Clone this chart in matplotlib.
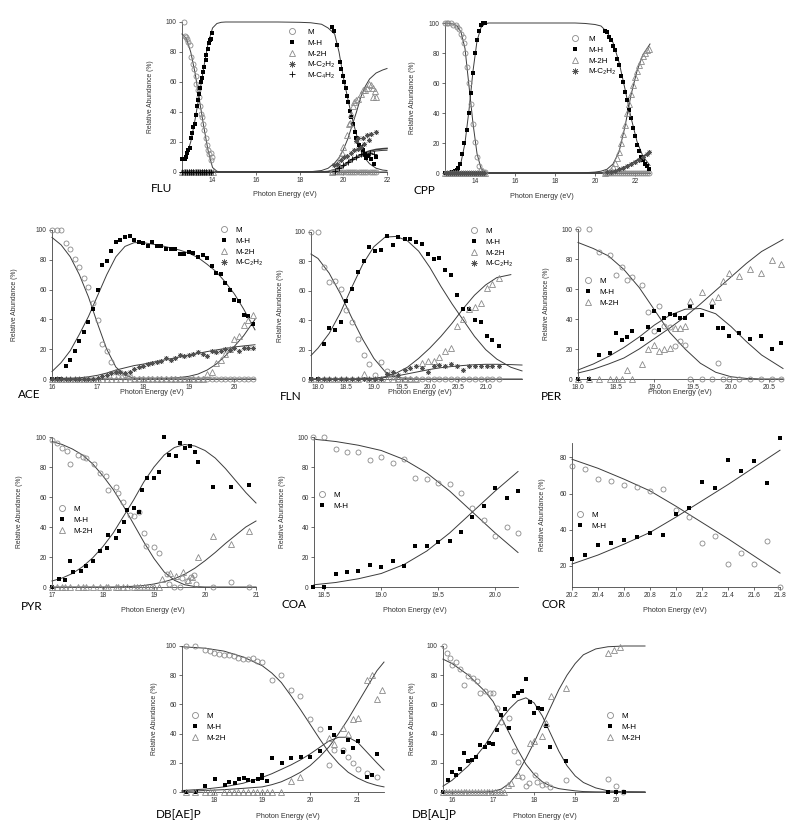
import numpy as np
import matplotlib
matplotlib.use('Agg')
import matplotlib.pyplot as plt

plt.rcParams['font.family'] = ['Liberation Sans', 'DejaVu Sans']

# ---------------- FLU ----------------
flu_m_x = [12.69, 12.75, 12.8, 12.83, 12.88, 12.95, 13.03, 13.1, 13.15, 13.22, 13.26, 13.32, 13.37,
           13.42, 13.46, 13.51, 13.57, 13.62, 13.68, 13.74, 13.8, 13.85, 13.92, 13.95, 13.98,
           19.5, 19.6, 19.7, 19.8, 19.9, 20.0, 20.1, 20.2, 20.3, 20.4, 20.5, 20.6, 20.7, 20.8,
           20.9, 21.0, 21.1, 21.2, 21.3, 21.4, 21.5]
flu_m_y = [100, 91, 90, 89, 87, 85, 77, 72, 69, 64, 59, 55, 50, 44, 39, 37, 32, 28, 23, 18, 15, 12, 13, 8, 10,
           0, 0, 0, 0, 0, 0, 0, 0, 0, 0, 0, 0, 0, 0, 0, 0, 0, 0, 0, 0, 0]
flu_mh_x = [12.6, 12.72, 12.8, 12.83, 12.89, 12.95, 13.0, 13.06, 13.11, 13.18, 13.23, 13.29, 13.34, 13.38,
            13.43, 13.48, 13.54, 13.58, 13.63, 13.68, 13.72, 13.77, 13.82, 13.88, 13.92, 13.98,
            19.46, 19.55, 19.72, 19.83, 19.9, 19.97, 20.03, 20.1, 20.18, 20.23, 20.3, 20.37, 20.45,
            20.52, 20.6, 20.72, 20.8, 20.88, 20.97, 21.06, 21.15, 21.26, 21.4, 21.5]
flu_mh_y = [9, 9, 10, 13, 15, 16, 23, 26, 30, 32, 38, 44, 48, 52, 56, 60, 63, 67, 70, 75, 78, 82, 86, 88, 89, 93,
            97, 94, 85, 73.5, 69, 64, 60, 56, 51, 47, 41, 37, 32, 27, 23, 18, 17, 14.5, 12, 9.6, 11, 9, 5.6, 10]
flu_m2h_x = [12.6, 12.7, 12.8, 12.9, 13.0, 13.1, 13.2, 13.3, 13.4, 13.5, 13.6, 13.7, 13.8, 13.9, 14.0,
             19.5, 19.6, 19.75, 19.85, 19.92, 19.98, 20.15, 20.25, 20.3, 20.34, 20.43, 20.49, 20.57, 20.65,
             20.8, 20.88, 20.98, 21.08, 21.18, 21.26, 21.37, 21.46, 21.49, 21.34]
flu_m2h_y = [0, 0, 0, 0, 0, 0, 0, 0, 0, 0, 0, 0, 0, 0, 0,
             0, 1, 6, 10, 13, 17, 24.5, 32, 33, 39, 44, 47, 48, 49, 52, 55, 55, 56, 59, 58, 56, 54, 50, 50]
flu_c2_x = [12.65, 12.75, 12.85, 12.95, 13.05, 13.15, 13.25, 13.35, 13.45, 13.55, 13.65, 13.75, 13.85, 13.95,
            19.57, 19.72, 19.88, 20.03, 20.18, 20.34, 20.5, 20.57, 20.65, 20.68, 20.8, 20.88, 20.95,
            21.08, 21.18, 21.26, 21.49]
flu_c2_y = [0, 0, 0, 0, 0, 0, 0, 0, 0, 0, 0, 0, 0, 0,
            4.5, 5.6, 8, 10, 11, 13, 14.5, 21, 15.6, 23, 17, 23, 19, 24.5, 21.6, 25.6, 27]
flu_c4_x = [12.62, 12.72, 12.82, 12.92, 13.02, 13.12, 13.22, 13.32, 13.42, 13.52, 13.62, 13.72, 13.82, 13.92,
            19.6, 19.8, 20.0, 20.2, 20.4, 20.6, 20.8, 21.0, 21.2, 21.4]
flu_c4_y = [0, 0, 0, 0, 0, 0, 0, 0, 0, 0, 0, 0, 0, 0, 1, 3, 5, 7, 9, 10, 12, 11, 13, 12]
flu_fit_x = [12.6, 12.8, 13.0, 13.2, 13.4, 13.6, 13.8, 14.0, 14.2, 14.4, 14.6, 15.0, 16.0, 17.0, 18.0,
             18.5, 19.0, 19.3, 19.6, 19.8, 20.0, 20.2, 20.4, 20.6, 20.8, 21.0, 21.2, 21.5, 21.8, 22.0]
flu_fit_m = [92, 89, 80, 66, 48, 30, 14, 3, 0.5, 0, 0, 0, 0, 0, 0, 0, 0, 0, 0, 0, 0, 0, 0, 0, 0, 0, 0, 0, 0, 0]
flu_fit_mh = [8, 11, 20, 35, 52, 70, 86, 96, 99, 99.8, 100, 100, 100, 100, 99.8, 99.5, 98.5, 96, 92, 80,
              63, 49, 36, 25, 15, 9, 5.5, 2.5, 1.3, 1]
flu_fit_m2h = [0, 0, 0, 0, 0, 0, 0, 0, 0, 0, 0, 0, 0, 0, 0, 0.2, 1, 2.5, 6, 9.5, 15, 22, 31, 40, 50, 57, 62,
               66, 68, 69]
flu_fit_c2 = [0, 0, 0, 0, 0, 0, 0, 0, 0, 0, 0, 0, 0, 0, 0, 0, 0, 0.3, 1.5, 3, 4.5, 6.5, 8.5, 10, 11.5, 13,
              14, 15, 15.5, 15.7]
flu_fit_c4 = [0, 0, 0, 0, 0, 0, 0, 0, 0, 0, 0, 0, 0, 0, 0, 0, 0, 0.2, 0.8, 2, 3.5, 5.5, 7.5, 9, 10.5, 12,
              13, 14, 14.4, 14.5]

# ---------------- CPP ----------------
cpp_m_x = [12.5, 12.58, 12.67, 12.78, 12.92, 13.03, 13.12, 13.22, 13.3, 13.38, 13.45, 13.52, 13.6, 13.68,
           13.78, 13.9, 14.02, 14.12, 14.22, 14.32, 14.42, 14.5,
           20.5, 20.6, 20.7, 20.8, 20.9, 21.0, 21.1, 21.2, 21.3, 21.4, 21.5, 21.6, 21.7, 21.8, 21.9, 22.0,
           22.1, 22.2, 22.3, 22.4, 22.5, 22.6, 22.7]
cpp_m_y = [100, 100, 100, 100, 99, 98.5, 97.5, 96, 93, 91, 87, 80, 71, 60, 46, 33, 21, 11, 5, 2, 1, 0.5,
           0, 0, 0, 0, 0, 0, 0, 0, 0, 0, 0, 0, 0, 0, 0, 0, 0, 0, 0, 0, 0, 0, 0]
cpp_mh_x = [12.5, 12.62, 12.72, 12.83, 12.92, 13.0, 13.08, 13.17, 13.27, 13.37, 13.47, 13.58, 13.68, 13.8,
            13.9, 14.02, 14.12, 14.22, 14.32, 14.42, 14.5,
            20.5, 20.6, 20.7, 20.8, 20.9, 21.0, 21.1, 21.2, 21.3, 21.4, 21.5, 21.6, 21.7, 21.8, 21.9, 22.0,
            22.1, 22.2, 22.3, 22.4, 22.5, 22.6, 22.7]
cpp_mh_y = [0, 0, 0.3, 0.5, 1, 1.3, 2, 3.5, 6, 12.7, 20, 29, 40, 53.5, 67, 80, 89, 95, 98.7, 99.8, 100,
            95, 94, 91, 89, 85, 82, 76, 72, 65, 61, 54, 49, 42, 37, 30, 25, 19, 15, 11, 9, 6, 5, 3]
cpp_m2h_x = [12.5, 12.6, 12.7, 12.8, 12.9, 13.0, 13.1, 13.2, 13.3, 13.4, 13.5, 13.6, 13.7, 13.8, 13.9, 14.0,
             14.1, 14.2, 14.3, 14.4, 14.5,
             20.5, 20.6, 20.7, 20.8, 20.9, 21.0, 21.1, 21.2, 21.3, 21.4, 21.5, 21.6, 21.7, 21.8, 21.9, 22.0,
             22.1, 22.2, 22.3, 22.4, 22.5, 22.6, 22.7]
cpp_m2h_y = [0, 0, 0, 0, 0, 0, 0, 0, 0, 0, 0, 0, 0, 0, 0, 0, 0, 0, 0, 0, 0,
             0, 0.5, 1, 2, 4, 7, 10, 14, 20, 26, 32, 40, 46, 53, 59, 64, 68, 72, 75, 78, 80, 82, 83]
cpp_c2_x = [12.55, 12.65, 12.75, 12.85, 12.95, 13.05, 13.15, 13.25, 13.35, 13.45, 13.55, 13.65, 13.75,
            13.85, 13.95, 14.05, 14.15, 14.25, 14.35, 14.45,
            20.6, 20.8, 21.0, 21.2, 21.4, 21.6, 21.8, 22.0, 22.2, 22.4, 22.6, 22.7]
cpp_c2_y = [0, 0, 0, 0, 0, 0, 0, 0, 0, 0, 0, 0, 0, 0, 0, 0, 0, 0, 0, 0,
            0.5, 1, 1.5, 2.5, 3.5, 4.5, 6, 7.5, 9, 11, 13, 14]
cpp_fit_x = [12.5, 12.7, 12.9, 13.1, 13.3, 13.5, 13.7, 13.9, 14.1, 14.3, 14.5, 14.7, 15.0, 16.0, 17.0, 18.0,
             19.0, 19.5, 20.0, 20.3, 20.6, 20.9, 21.2, 21.5, 21.8, 22.1, 22.4, 22.75]
cpp_fit_m = [100, 99.8, 99.3, 98, 94, 83, 58, 33, 13, 3, 0.5, 0, 0, 0, 0, 0, 0, 0, 0, 0, 0, 0, 0, 0, 0, 0, 0, 0]
cpp_fit_mh = [0, 0.2, 0.6, 2, 7, 20, 42, 68, 88, 97, 99.5, 100, 100, 100, 100, 100, 100, 99.7, 99, 98, 94,
              87, 74, 56, 37, 21, 11, 5]
cpp_fit_m2h = [0, 0, 0, 0, 0, 0, 0, 0, 0, 0, 0, 0, 0, 0, 0, 0, 0, 0.2, 0.6, 1.2, 2.5, 6, 14, 31, 52, 68, 79, 86]
cpp_fit_c2 = [0, 0, 0, 0, 0, 0, 0, 0, 0, 0, 0, 0, 0, 0, 0, 0, 0, 0, 0, 0, 0.3, 1, 2, 4, 6, 8.5, 11, 14]

# ---------------- ACE ----------------
ace_x = [16.0, 16.1, 16.2, 16.3, 16.4, 16.5, 16.6, 16.7, 16.8, 16.9, 17.0, 17.1, 17.2, 17.3, 17.4, 17.5,
         17.6, 17.7, 17.8, 17.9, 18.0, 18.1, 18.2, 18.3, 18.4, 18.5, 18.6, 18.7, 18.8, 18.9, 19.0, 19.1,
         19.2, 19.3, 19.4, 19.5, 19.6, 19.7, 19.8, 19.9, 20.0, 20.1, 20.2, 20.3, 20.4]
ace_m = [100, 100, 100, 91, 87, 80.5, 75, 67.5, 62, 51, 39.5, 23.5, 19, 11.5, 5, 4, 3, 1.5,
         0, 0, 0, 0, 0, 0, 0, 0, 0, 0, 0, 0, 0, 0, 0, 0, 0, 0, 0, 0, 0, 0, 0, 0, 0, 0, 0]
ace_mh = [0, 0, 0, 8.5, 13, 19, 25.5, 31.5, 38, 47, 59.5, 76.5, 79, 86, 92, 93.5, 95, 96, 93, 92, 91, 89.5,
          92, 89, 89, 87, 87.5, 87.5, 84, 84, 85, 84.5, 82, 83, 81.5, 76, 71, 70.5, 64.5, 60, 53, 52.5, 43, 42, 37]
ace_m2h = [0, 0, 0, 0, 0, 0, 0, 0, 0, 0, 0, 0, 0, 0, 0, 0, 0, 0, 0, 0, 0, 0, 0, 0, 0, 0, 0, 0, 0, 0, 0, 0,
           0, 0, 3.5, 5, 11, 12.5, 17, 20, 27, 29, 36, 39.5, 43]
ace_c2 = [0, 0, 0, 0, 0, 0, 0, 0, 0, 0, 1, 2, 3, 4, 5, 5, 4, 5, 7, 8, 9, 10, 10.5, 11.5, 12, 14, 13, 14, 16,
          15.5, 16, 16.5, 18, 17, 15.5, 18.5, 18, 19, 20, 19.5, 21, 19, 20.5, 21, 20.5]
ace_fit_x = [16.0, 16.2, 16.4, 16.6, 16.8, 17.0, 17.2, 17.4, 17.6, 17.8, 18.0, 18.2, 18.4, 18.6, 18.8, 19.0,
             19.2, 19.4, 19.6, 19.8, 20.0, 20.2, 20.45]
ace_fit_m = [95, 90, 82, 70, 55, 37, 20, 8, 2.5, 0.5, 0, 0, 0, 0, 0, 0, 0, 0, 0, 0, 0, 0, 0]
ace_fit_mh = [5, 11, 19, 30, 42, 56, 70, 82, 89, 91.5, 91.5, 90.5, 89.5, 88, 86.5, 84.5, 81.5, 77, 72, 65,
              57, 47, 33]
ace_fit_m2h = [0, 0, 0, 0, 0, 0, 0, 0, 0, 0, 0, 0.1, 0.2, 0.5, 1, 1.8, 3.3, 6, 10, 15.5, 22, 29, 40]
ace_fit_c2 = [0, 0.2, 0.4, 0.8, 1.5, 2.5, 4, 6, 7.5, 9, 10, 11.2, 12.4, 13.6, 14.8, 16, 17.2, 18.4, 19.5,
              20.5, 21.5, 22.2, 23]

# ---------------- FLN ----------------
fln_x = [17.875, 18.0, 18.1, 18.2, 18.31, 18.41, 18.51, 18.61, 18.71, 18.82, 18.92, 19.02, 19.13, 19.23,
         19.34, 19.44, 19.55, 19.65, 19.76, 19.86, 19.96, 20.07, 20.17, 20.27, 20.38, 20.48, 20.59, 20.7,
         20.81, 20.91, 21.02, 21.12, 21.23]
fln_m = [100, 100, 76, 66, 67, 61, 47, 39, 27, 16, 10, 3, 11.3, 5.6, 1.5,
         0, 0, 0, 0, 0, 0, 0, 0, 0, 0, 0, 0, 0, 0, 0, 0, 0, 0]
fln_mh = [0, 0, 24, 34.5, 33, 39, 53, 61, 73, 80.5, 89.5, 87, 87.5, 97, 91, 96.5, 95.5, 95.5, 93.5, 92, 85,
          81.5, 82.5, 74, 70.5, 57, 47.5, 47.5, 40, 39, 29, 26.5, 22.5]
fln_m2h = [0, 0, 0, 0, 0, 0, 0, 0, 0, 3.6, 0, 0, 0, 0, 0, 0, 0, 0, 0, 11, 12, 12.2, 15, 19, 21, 36, 41,
           47.4, 49, 51.5, 61.6, 64.6, 68.4]
fln_c2 = [0, 0, 0, 0, 0, 0, 0, 0, 0, 0, 0, 0, 0, 3.6, 4.5, 3, 6.3, 7.4, 8.6, 7.4, 5, 8.6, 9.7, 8.6, 10.4,
          8.6, 6.3, 9, 9, 9, 9, 9, 9]
fln_fit_x = [17.875, 18.0, 18.2, 18.4, 18.6, 18.8, 19.0, 19.2, 19.4, 19.6, 19.8, 20.0, 20.2, 20.4, 20.6,
             20.8, 21.0, 21.2, 21.45, 21.65]
fln_fit_m = [85, 82, 72, 58, 42, 27, 14, 5, 1.2, 0.2, 0, 0, 0, 0, 0, 0, 0, 0, 0, 0]
fln_fit_mh = [16, 21, 31, 45, 62, 78, 90, 96.5, 97, 94, 87, 76, 63, 51, 40, 29, 20, 13.5, 8, 5.5]
fln_fit_m2h = [0, 0, 0, 0, 0, 0.2, 0.5, 1.5, 4, 8, 14, 21, 29, 38, 48, 57, 64, 69, 71, np.nan]
fln_fit_c2 = [0, 0, 0, 0, 0, 0, 0.3, 1, 2, 3.5, 5, 6.5, 7.7, 8.5, 9.2, 9.7, 10, 10, 9.8, 9.5]

# ---------------- PER ----------------
per_x = [18.0, 18.14, 18.28, 18.42, 18.5, 18.57, 18.64, 18.7, 18.84, 18.92, 18.99, 19.06, 19.13, 19.2,
         19.27, 19.33, 19.4, 19.47, 19.62, 19.75, 19.83, 19.9, 19.97, 20.1, 20.25, 20.39, 20.53, 20.66]
per_m = [100, 100, 84.5, 83, 69.5, 74.5, 66, 68, 62.5, 45, 32, 49, 35.5, 35, 22, 25.5, 23, 0, 0, 0, 10.5,
         0, 0, 0, 0, 0, 0, 0]
per_mh = [0, 0, 15.8, 17.4, 30.8, 26.3, 28, 32, 27, 34.4, 45.5, 32.6, 41, 43.3, 43, 40.4, 41, 48.7, 42.6,
          47.8, 34, 34, 29, 31, 26.6, 29, 20, 24]
per_m2h = [0, 0, 0, 0, 0, 0, 5.8, 0, 10, 20, 22.5, 18.5, 20.3, 20.8, 34, 33.7, 35.3, 52, 57.8, 52, 55,
           65.4, 70.5, 68.8, 73.2, 71, 79.5, 76.6]
per_fit_x = [18.0, 18.2, 18.4, 18.6, 18.8, 19.0, 19.2, 19.4, 19.6, 19.8, 20.0, 20.2, 20.4, 20.68]
per_fit_m = [91, 87, 82, 73, 61, 46, 31, 20, 10.5, 4.5, 1.5, 0.4, 0, 0]
per_fit_mh = [6, 10, 15, 21, 28, 36, 42.5, 46.5, 47, 43.5, 35, 25, 16, 7]
per_fit_m2h = [4, 6.5, 10, 14, 20, 27, 34, 41.5, 50, 59, 68, 77, 85, 93]

# ---------------- PYR ----------------
pyr_m_x = [17.0, 17.1, 17.2, 17.3, 17.36, 17.5, 17.6, 17.67, 17.83, 17.95, 18.05, 18.1, 18.25, 18.3, 18.4,
           18.52, 18.6, 18.7, 18.8, 18.85, 19.0, 19.1, 19.25, 19.3, 19.4, 19.5, 19.55, 19.65, 19.72, 19.78,
           19.82, 20.15, 20.5, 20.86]
pyr_m_y = [98, 96, 93, 91, 82, 88, 87, 86, 82, 76, 74, 65, 67, 62.5, 56.5, 48, 47.5, 50, 36, 27.5, 27, 23,
           9, 2, 0, 0, 6, 4, 7, 8, 2, 0, 3.5, 0]
pyr_mh_x = [17.0, 17.13, 17.26, 17.36, 17.41, 17.56, 17.67, 17.8, 17.95, 18.07, 18.1, 18.26, 18.31, 18.41,
            18.47, 18.6, 18.71, 18.76, 18.86, 19.0, 19.1, 19.2, 19.3, 19.44, 19.5, 19.6, 19.7, 19.8, 19.87,
            20.15, 20.5, 20.86]
pyr_mh_y = [0, 5.6, 5, 17.4, 10, 10.7, 13.8, 17.4, 24.1, 25.7, 34.6, 33, 37.5, 43.6, 51.4, 52.5, 50.3,
            64.4, 72.6, 73, 77, 100, 88, 87.6, 96, 93, 94, 90, 83.5, 66.6, 67, 68]
pyr_m2h_x = [17.0, 17.1, 17.2, 17.26, 17.36, 17.5, 17.6, 17.67, 17.8, 17.95, 18.05, 18.1, 18.25, 18.3,
             18.4, 18.47, 18.6, 18.67, 18.73, 18.8, 18.86, 18.95, 19.0, 19.1,
             19.15, 19.31, 19.43, 19.56, 19.66, 19.75, 19.87, 20.16, 20.51, 20.87]
pyr_m2h_y = [0, 0, 0, 0, 0, 0, 0, 0, 0, 0, 0, 0, 0, 0, 0, 0, 0, 0, 0, 0, 0, 0, 0, 0,
             5.6, 9.6, 7.4, 10, 4.5, 6.7, 20, 34, 29, 37.3]
pyr_fit_x = [17.0, 17.2, 17.4, 17.6, 17.8, 18.0, 18.2, 18.4, 18.6, 18.8, 19.0, 19.2, 19.4, 19.6, 19.8,
             20.0, 20.2, 20.4, 20.6, 20.8, 21.0]
pyr_fit_m = [97, 95, 92, 88, 82, 74, 65, 54, 42, 30, 19, 10, 4.5, 1.5, 0.3, 0, 0, 0, 0, 0, 0]
pyr_fit_mh = [4, 6, 9, 13.5, 19.5, 27, 36, 47, 58, 70, 80, 88, 93, 95, 94, 91, 86, 79, 71, 63, 56]
pyr_fit_m2h = [0, 0, 0, 0, 0, 0, 0, 0.2, 0.5, 1, 2, 3.5, 5.5, 8.5, 12.5, 17.5, 23, 29, 34.5, 40, 44]

# ---------------- COA ----------------
coa_x = [18.4, 18.5, 18.6, 18.7, 18.8, 18.9, 19.0, 19.1, 19.2, 19.3, 19.4, 19.5, 19.6, 19.7, 19.8, 19.9,
         20.0, 20.1, 20.2]
coa_m = [100, 100, 92, 90, 90, 85, 86.5, 82.5, 85.5, 72.5, 72, 69.5, 68.5, 63, 53, 45, 34, 40, 36]
coa_mh = [0, 0, 9, 10.2, 11, 15, 13.6, 17.4, 14, 27.4, 27.4, 30, 31, 37, 46.5, 54.3, 66, 59.2, 63.7]
coa_fit_x = [18.41, 18.6, 18.8, 19.0, 19.2, 19.4, 19.6, 19.8, 20.0, 20.2]
coa_fit_m = [98.5, 97, 94.5, 91, 85, 76, 64, 50, 36, 23]
coa_fit_mh = [1.5, 3, 5.5, 9, 15, 24, 36, 50, 64, 77]

# ---------------- COR ----------------
cor_x = [20.2, 20.3, 20.4, 20.5, 20.6, 20.7, 20.8, 20.9, 21.0, 21.1, 21.2, 21.3, 21.4, 21.5, 21.6, 21.7, 21.8]
cor_m = [75.5, 73.5, 68, 67, 65, 63.5, 61.5, 62.5, 51, 47, 32.5, 36.5, 21, 27, 21, 33.5, 8.5]
cor_mh = [24, 26, 31.5, 32.5, 34.5, 36, 38, 37, 48.5, 52, 66.5, 63, 78.5, 72.5, 78, 66, 91]
cor_fit_x = [20.2, 20.4, 20.6, 20.8, 21.0, 21.2, 21.4, 21.6, 21.8]
cor_fit_m = [79, 74, 68, 61.5, 53, 44, 35, 25.5, 16]
cor_fit_mh = [21, 26, 32, 38.5, 47, 56, 65, 74.5, 84]

# ---------------- DB[AE]P ----------------
dbae_m_x = [17.41, 17.6, 17.8, 17.9, 18.0, 18.1, 18.2, 18.3, 18.4, 18.5, 18.6, 18.7, 18.8, 18.9, 19.0,
            19.2, 19.4, 19.6, 19.8, 20.0, 20.2, 20.4, 20.5, 20.7, 20.8, 20.9, 21.0, 21.2, 21.4]
dbae_m_y = [100, 100, 97, 96.5, 95, 94.5, 94, 93.5, 93, 92, 91, 91, 92, 90, 89, 77, 80, 70, 66, 50, 43,
            18.5, 29, 29, 24, 20, 15.5, 13, 10]
dbae_mh_x = [17.41, 17.62, 17.81, 18.01, 18.21, 18.31, 18.42, 18.51, 18.61, 18.71, 18.81, 18.91, 19.0,
             19.0, 19.1, 19.21, 19.41, 19.61, 19.81, 20.0, 20.21, 20.41, 20.51, 20.7, 20.8, 20.9, 21.0,
             21.2, 21.3, 21.4]
dbae_mh_y = [0, 0, 3.9, 8.9, 4.8, 6.6, 6.1, 8.9, 9.5, 8.4, 7.3, 8.9, 11.5, 9.5, 7.7, 23.6, 20.2, 23.6,
             24.3, 24.3, 28.2, 43.6, 39, 27.7, 35.7, 30, 35, 10.2, 11.4, 25.9]
dbae_m2h_x = [17.41, 17.6, 17.8, 17.9, 18.0, 18.2, 18.3, 18.4, 18.5, 18.6, 18.7, 18.8, 18.9, 19.0, 19.1,
              19.2, 19.4, 19.6, 19.8, 20.4, 20.5, 20.7, 20.8, 20.9, 21.0, 21.2, 21.3, 21.4, 21.5]
dbae_m2h_y = [0, 0, 0, 0, 0, 0, 0, 0, 0, 0, 0, 0, 0, 0, 0, 0, 0,
              7.5, 10.5, 37, 33, 43.5, 40, 50, 51, 77, 80, 64, 70]
dbae_fit_x = [17.32, 17.8, 18.2, 18.6, 19.0, 19.2, 19.4, 19.6, 19.8, 20.0, 20.2, 20.4, 20.6, 20.8, 21.0,
              21.2, 21.4, 21.55]
dbae_fit_m = [99.5, 98.5, 96.5, 92.5, 86.5, 81.5, 75, 66, 56.5, 46.5, 36.5, 27, 19.5, 13.5, 9.5, 6.5, 4.5, 3.5]
dbae_fit_mh = [1, 2, 3.5, 6, 10, 12.5, 15.5, 18.5, 22, 26, 30.5, 35, 37.5, 37.5, 34, 27, 20, 15]
dbae_fit_m2h = [0.3, 1, 1.6, 2.5, 3.5, 5, 7, 10, 13.5, 18, 24, 31, 40, 50, 61, 72, 83, 89]

# ---------------- DB[AL]P ----------------
dbal_m_x = [15.8, 15.88, 15.95, 16.0, 16.1, 16.19, 16.28, 16.39, 16.51, 16.61, 16.69, 16.81, 16.92, 17.0,
            17.09, 17.2, 17.39, 17.5, 17.61, 17.7, 17.8, 17.87, 18.01, 18.08, 18.18, 18.28, 18.39, 18.78,
            19.8, 20.0, 20.16]
dbal_m_y = [100, 95, 92, 86.8, 89, 84, 73, 79.3, 78.2, 76, 67.5, 69.3, 67.5, 68, 57.7, 47.7, 50.5, 28.2,
            20.5, 10.2, 4.3, 6.1, 11.8, 6.6, 5, 5.7, 3.4, 8, 8.9, 3.9, 0]
dbal_mh_x = [15.78, 15.9, 16.0, 16.1, 16.2, 16.28, 16.39, 16.49, 16.59, 16.69, 16.81, 16.9, 17.0, 17.09,
             17.2, 17.3, 17.39, 17.5, 17.61, 17.7, 17.79, 17.89, 17.99, 18.09, 18.2, 18.3, 18.39, 18.78,
             19.8, 20.0, 20.2]
dbal_mh_y = [0, 8, 13.4, 11.4, 15.9, 26.6, 21, 22, 24.3, 32.3, 30.7, 33.4, 33, 42.5, 52.7, 56.6, 43.6,
             65.7, 68, 69, 77.3, 61.8, 53.9, 57.7, 56.6, 45.2, 30.7, 21, 0, 0, 0]
dbal_m2h_x = [15.78, 15.85, 15.92, 16.0, 16.07, 16.14, 16.21, 16.28, 16.35, 16.42, 16.49, 16.56, 16.63,
              16.7, 16.77, 16.84, 16.91, 16.98, 17.05, 17.12, 17.2, 17.27,
              17.36, 17.44, 17.6, 17.89, 17.99, 18.2, 18.3, 18.41, 18.78, 19.8, 19.95, 20.1]
dbal_m2h_y = [0, 0, 0, 0, 0, 0, 0, 0, 0, 0, 0, 0, 0, 0, 0, 0, 0, 0, 0, 0, 0, 0,
              5, 6.1, 11.8, 33.4, 35, 38.4, 47, 65.7, 71, 95, 97, 99]
dbal_fit_x = [15.78, 16.0, 16.4, 16.8, 17.0, 17.2, 17.4, 17.6, 17.8, 18.0, 18.2, 18.4, 18.6, 18.8, 19.0,
              19.2, 19.5, 19.8, 20.2, 20.7]
dbal_fit_m = [91, 88, 80, 69, 62, 51, 40, 29, 19, 12, 7, 4, 2.3, 1.5, 0.8, 0.3, 0.1, 0, 0, 0]
dbal_fit_mh = [4, 8, 18, 32, 41, 50, 57, 62.5, 64.5, 61, 52, 40, 28, 18, 11, 6.5, 2.8, 0.8, 0.2, 0]
dbal_fit_m2h = [0, 0, 0, 0, 0.5, 2, 6, 13, 23, 34, 46, 58, 70, 80, 88, 94, 98, 99.5, 100, 100]

# ---------------------------------------------------------------
W, H = 800, 833
fig = plt.figure(figsize=(8, 8.33), dpi=100)
fig.patch.set_facecolor('white')

GREY = '#8a8a8a'
LINE = '#3c3c3c'
STY = {
    'M': dict(marker='o', ls='none', mfc='none', mec=GREY, mew=0.6, ms=3.6),
    'M-H': dict(marker='s', ls='none', mfc='black', mec='black', mew=0, ms=3.0),
    'M-2H': dict(marker='^', ls='none', mfc='none', mec=GREY, mew=0.6, ms=3.8),
    'M-C2H2': dict(marker=(8, 2, 0), ls='none', color='#505050', mew=0.5, ms=3.6),
    'M-C4H2': dict(marker='+', ls='none', color='black', mew=0.6, ms=4),
}
LABELS = {'M': 'M', 'M-H': 'M-H', 'M-2H': 'M-2H',
          'M-C2H2': 'M-C\u2082H\u2082', 'M-C4H2': 'M-C\u2084H\u2082'}


def panel(box, xlim, ylim, xticks, yticks, fmt=None):
    l, r, t, b = box
    ax = fig.add_axes([l / W, 1 - b / H, (r - l) / W, (b - t) / H])
    ax.set_xlim(xlim)
    ax.set_ylim(ylim)
    ax.set_xticks(xticks)
    ax.set_yticks(yticks)
    if fmt:
        ax.set_xticklabels([fmt % v for v in xticks])
    for s in ['top', 'right']:
        ax.spines[s].set_visible(False)
    for s in ['left', 'bottom']:
        ax.spines[s].set_linewidth(0.6)
        ax.spines[s].set_color('#444444')
    ax.tick_params(labelsize=4.8, length=2.2, width=0.5, pad=1.5, colors='#333333')
    ax.patch.set_alpha(0)
    return ax


def pts(ax, x, y, key):
    return ax.plot(x, y, **STY[key], label=LABELS[key], clip_on=False, zorder=3)[0]


def fits(ax, x, *curves, bold=None):
    for i, c in enumerate(curves):
        ax.plot(x, c, color=LINE, lw=1.2 if i == bold else 0.7, zorder=2, clip_on=False)


def legend(ax, handles, mx, my, gap=0.8):
    ax.legend(handles=handles, loc='upper left',
              bbox_to_anchor=((mx - 4.6) / W, 1 - (my - 4.8) / H), bbox_transform=fig.transFigure,
              frameon=False, fontsize=5.8, handlelength=1.2, handletextpad=gap, labelspacing=0.4,
              borderpad=0, borderaxespad=0, markerscale=1.2)


def labels(name, nx, ny, xlx, xly, ylx, box):
    fig.text(nx / W, 1 - ny / H, name, fontsize=8.5, ha='left', va='center', family=['Lato', 'DejaVu Sans'])
    fig.text(xlx / W, 1 - xly / H, 'Photon Energy (eV)', fontsize=5.2, ha='center', va='center',
             color='#333333')
    fig.text(ylx / W, 1 - (box[2] + box[3]) / 2 / H, 'Relative Abundance (%)', fontsize=4.9,
             rotation=90, ha='center', va='center', color='#333333')


Y100 = [0, 20, 40, 60, 80, 100]

# FLU
box = (182, 387, 22, 172)
ax = panel(box, (12.6, 22), (0, 100), [14, 16, 18, 20, 22], Y100)
fits(ax, flu_fit_x, flu_fit_m, flu_fit_mh, flu_fit_m2h, flu_fit_c2, flu_fit_c4, bold=3)
h = [pts(ax, flu_m_x, flu_m_y, 'M'), pts(ax, flu_mh_x, flu_mh_y, 'M-H'), pts(ax, flu_m2h_x, flu_m2h_y, 'M-2H'),
     pts(ax, flu_c2_x, flu_c2_y, 'M-C2H2'), pts(ax, flu_c4_x, flu_c4_y, 'M-C4H2')]
legend(ax, h, 292, 33, gap=1.3)
labels('FLU', 151, 188, 285, 195, 150, box)

# CPP
box = (445, 650, 23, 173)
ax = panel(box, (12.5, 22.75), (0, 100), [14, 16, 18, 20, 22], Y100)
fits(ax, cpp_fit_x, cpp_fit_m, cpp_fit_mh, cpp_fit_m2h, cpp_fit_c2, bold=3)
h = [pts(ax, cpp_m_x, cpp_m_y, 'M'), pts(ax, cpp_mh_x, cpp_mh_y, 'M-H'), pts(ax, cpp_m2h_x, cpp_m2h_y, 'M-2H'),
     pts(ax, cpp_c2_x, cpp_c2_y, 'M-C2H2')]
legend(ax, h, 575, 40, gap=1.0)
labels('CPP', 414, 190, 542, 197, 413, box)

# ACE
box = (52, 255, 230, 379)
ax = panel(box, (16, 20.45), (0, 100), [16, 17, 18, 19, 20], Y100)
fits(ax, ace_fit_x, ace_fit_m, ace_fit_mh, ace_fit_m2h, ace_fit_c2)
h = [pts(ax, ace_x, ace_m, 'M'), pts(ax, ace_x, ace_mh, 'M-H'), pts(ax, ace_x, ace_m2h, 'M-2H'),
     pts(ax, ace_x, ace_c2, 'M-C2H2')]
legend(ax, h, 224, 231)
labels('ACE', 18, 395, 152, 393, 15, box)

# FLN
box = (311, 522, 232, 379)
ax = panel(box, (17.875, 21.65), (0, 100), [18.0, 18.5, 19.0, 19.5, 20.0, 20.5, 21.0], Y100, '%.1f')
fits(ax, fln_fit_x, fln_fit_m, fln_fit_mh, fln_fit_m2h, fln_fit_c2)
h = [pts(ax, fln_x, fln_m, 'M'), pts(ax, fln_x, fln_mh, 'M-H'), pts(ax, fln_x, fln_m2h, 'M-2H'),
     pts(ax, fln_x, fln_c2, 'M-C2H2')]
legend(ax, h, 474, 232)
labels('FLN', 280, 397, 420, 393, 280, box)

# PER
box = (578, 783, 229, 379)
ax = panel(box, (18.0, 20.68), (0, 100), [18.0, 18.5, 19.0, 19.5, 20.0, 20.5], Y100, '%.1f')
fits(ax, per_fit_x, per_fit_m, per_fit_mh, per_fit_m2h)
h = [pts(ax, per_x, per_m, 'M'), pts(ax, per_x, per_mh, 'M-H'), pts(ax, per_x, per_m2h, 'M-2H')]
legend(ax, h, 588, 282)
labels('PER', 541, 397, 680, 393, 547, box)

# PYR
box = (52, 256, 437, 587)
ax = panel(box, (17, 21), (0, 100), [17, 18, 19, 20, 21], Y100)
fits(ax, pyr_fit_x, pyr_fit_m, pyr_fit_mh, pyr_fit_m2h)
h = [pts(ax, pyr_m_x, pyr_m_y, 'M'), pts(ax, pyr_mh_x, pyr_mh_y, 'M-H'), pts(ax, pyr_m2h_x, pyr_m2h_y, 'M-2H')]
legend(ax, h, 62, 510)
labels('PYR', 21, 606, 153, 610, 20, box)

# COA
box = (314, 518, 437, 587)
ax = panel(box, (18.41, 20.2), (0, 100), [18.5, 19.0, 19.5, 20.0], Y100, '%.1f')
fits(ax, coa_fit_x, coa_fit_m, coa_fit_mh)
h = [pts(ax, coa_x, coa_m, 'M'), pts(ax, coa_x, coa_mh, 'M-H')]
legend(ax, h, 322, 496)
labels('COA', 282, 605, 415, 610, 282, box)

# COR
box = (572, 780, 443, 587)
ax = panel(box, (20.2, 21.8), (8.3, 88), [20.2, 20.4, 20.6, 20.8, 21.0, 21.2, 21.4, 21.6, 21.8],
           [20, 40, 60, 80], '%.1f')
fits(ax, cor_fit_x, cor_fit_m, cor_fit_mh)
h = [pts(ax, cor_x, cor_m, 'M'), pts(ax, cor_x, cor_mh, 'M-H')]
legend(ax, h, 580, 516)
labels('COR', 541, 605, 675, 610, 543, box)

# DB[AE]P
box = (182, 384, 646, 792)
ax = panel(box, (17.32, 21.55), (0, 100), [18, 19, 20, 21], Y100)
fits(ax, dbae_fit_x, dbae_fit_m, dbae_fit_mh, dbae_fit_m2h)
h = [pts(ax, dbae_m_x, dbae_m_y, 'M'), pts(ax, dbae_mh_x, dbae_mh_y, 'M-H'),
     pts(ax, dbae_m2h_x, dbae_m2h_y, 'M-2H')]
legend(ax, h, 195, 717)
labels('DB[AE]P', 156, 815, 288, 816, 155, box)

# DB[AL]P
box = (443, 645, 646, 792)
ax = panel(box, (15.78, 20.7), (0, 100), [16, 17, 18, 19, 20], Y100)
fits(ax, dbal_fit_x, dbal_fit_m, dbal_fit_mh, dbal_fit_m2h)
h = [pts(ax, dbal_m_x, dbal_m_y, 'M'), pts(ax, dbal_mh_x, dbal_mh_y, 'M-H'),
     pts(ax, dbal_m2h_x, dbal_m2h_y, 'M-2H')]
legend(ax, h, 610, 717)
labels('DB[AL]P', 412, 815, 545, 816, 412, box)

fig.savefig('out.png', dpi=100, facecolor='white')
